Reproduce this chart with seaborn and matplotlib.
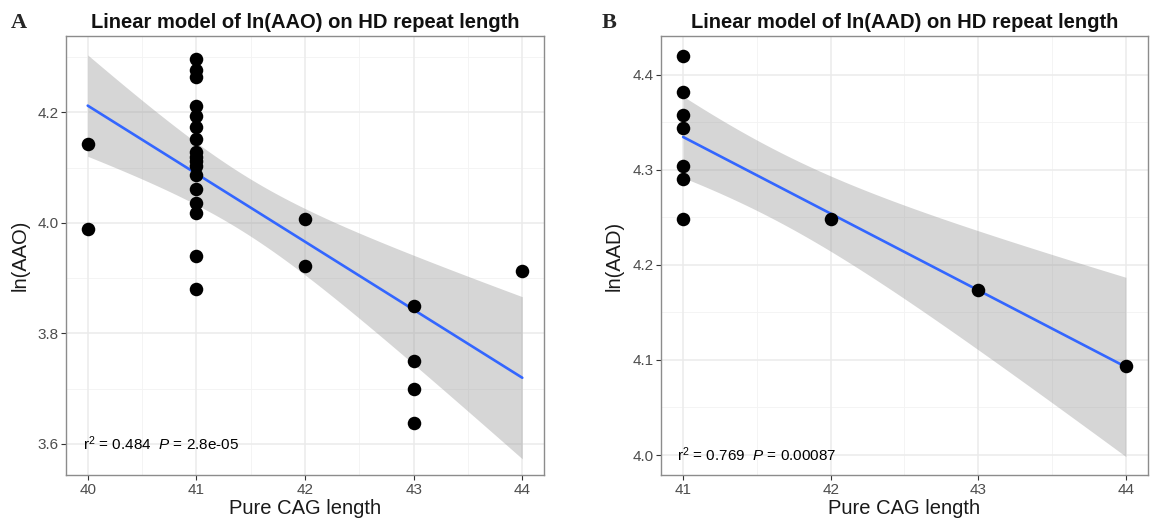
import math
import numpy as np
import pandas as pd
import matplotlib
matplotlib.use("Agg")
import matplotlib.pyplot as plt
import seaborn as sns

# ---------------- data ----------------
cag_a = [40, 40,
         41, 41, 41, 41, 41, 41, 41, 41, 41, 41, 41, 41, 41, 41, 41, 41, 41,
         42, 42,
         43, 43, 43, 43,
         44]
ln_aao = [4.143, 3.989,
          4.297, 4.277, 4.263, 4.211, 4.193, 4.174, 4.151, 4.128, 4.119, 4.111,
          4.102, 4.086, 4.061, 4.035, 4.017, 3.940, 3.881,
          4.007, 3.922,
          3.850, 3.750, 3.700, 3.637,
          3.912]

cag_b = [41, 41, 41, 41, 41, 41, 41, 42, 43, 44]
ln_aad = [4.419, 4.382, 4.357, 4.344, 4.304, 4.290, 4.248, 4.248, 4.174, 4.094]

titles = ["Linear model of ln(AAO) on HD repeat length",
          "Linear model of ln(AAD) on HD repeat length"]
ylabels = ["ln(AAO)", "ln(AAD)"]
xlabel = "Pure CAG length"
stats_text = [r"r$^{2}$ = 0.484  $\mathit{P}$ = 2.8e-05",
              r"r$^{2}$ = 0.769  $\mathit{P}$ = 0.00087"]
panel_letters = ["A", "B"]
xticks_list = [[40, 41, 42, 43, 44], [41, 42, 43, 44]]
yticks_list = [[3.6, 3.8, 4.0, 4.2], [4.0, 4.1, 4.2, 4.3, 4.4]]

# ---------------- style ----------------
sns.set_theme(style="white")
plt.rcParams["font.family"] = ["Liberation Sans", "DejaVu Sans"]
plt.rcParams["mathtext.fontset"] = "custom"
plt.rcParams["mathtext.rm"] = "Liberation Sans"
plt.rcParams["mathtext.it"] = "Liberation Sans:italic"
plt.rcParams["mathtext.bf"] = "Liberation Sans:bold"


def t_quantile(p, df):
    # inverse CDF of Student t via numeric integration of the pdf
    c = math.exp(math.lgamma((df + 1) / 2) - math.lgamma(df / 2)) / math.sqrt(df * math.pi)
    xs = np.linspace(0, 10, 200001)
    pdf = c * (1 + xs ** 2 / df) ** (-(df + 1) / 2)
    cdf = 0.5 + np.concatenate([[0], np.cumsum((pdf[1:] + pdf[:-1]) / 2 * np.diff(xs))])
    return float(np.interp(p, cdf, xs))


def lm_band(x, y, grid):
    x = np.asarray(x, float)
    y = np.asarray(y, float)
    n = len(x)
    b, a = np.polyfit(x, y, 1)
    resid = y - (a + b * x)
    s = math.sqrt(np.sum(resid ** 2) / (n - 2))
    sxx = np.sum((x - x.mean()) ** 2)
    se = s * np.sqrt(1 / n + (grid - x.mean()) ** 2 / sxx)
    t = t_quantile(0.975, n - 2)
    fit = a + b * grid
    return fit, fit - t * se, fit + t * se


W, H = 1152, 521
fig = plt.figure(figsize=(W / 100, H / 100), dpi=100)
ax_pos = [(66, 544), (661, 1148)]
top_px, bot_px = 36, 475
xlims = [(39.8, 44.2), (40.85, 44.15)]
ylims = [(3.5435, 4.338), (3.979, 4.4405)]
minor_x = [[39.5 + i for i in range(0, 6)], [40.5 + i for i in range(0, 5)]]
minor_y = [[3.5, 3.7, 3.9, 4.1, 4.3], [4.05, 4.15, 4.25, 4.35]]
letter_x = [11, 602]
ylabel_x = [20, 614]

datasets = [(cag_a, ln_aao), (cag_b, ln_aad)]

for i in range(2):
    l, r = ax_pos[i]
    ax = fig.add_axes([l / W, 1 - bot_px / H, (r - l) / W, (bot_px - top_px) / H])
    xs, ys = datasets[i]
    df = pd.DataFrame({"cag": xs, "val": ys})

    # grid (theme_bw like)
    for v in minor_x[i]:
        ax.axvline(v, color="#F3F3F3", lw=0.6, zorder=0)
    for v in minor_y[i]:
        ax.axhline(v, color="#F3F3F3", lw=0.6, zorder=0)
    for v in xticks_list[i]:
        ax.axvline(v, color="#EBEBEB", lw=1.1, zorder=0)
    for v in yticks_list[i]:
        ax.axhline(v, color="#EBEBEB", lw=1.1, zorder=0)

    grid = np.linspace(min(xs), max(xs), 200)
    fit, lo, hi = lm_band(xs, ys, grid)
    ax.fill_between(grid, lo, hi, color="#999999", alpha=0.4, lw=0, zorder=1)
    sns.regplot(data=df, x="cag", y="val", scatter=False, ci=None, ax=ax,
                line_kws=dict(color="#3366FF", lw=1.9, zorder=2), truncate=True)
    sns.scatterplot(data=df, x="cag", y="val", ax=ax, s=95, color="black",
                    edgecolor="black", linewidth=0, zorder=3)

    ax.set_xlim(*xlims[i])
    ax.set_ylim(*ylims[i])
    ax.set_xticks(xticks_list[i])
    ax.set_xticklabels([str(v) for v in xticks_list[i]])
    ax.set_yticks(yticks_list[i])
    ax.set_yticklabels([f"{v:.1f}" for v in yticks_list[i]])
    ax.tick_params(axis="both", which="both", direction="out", length=3.5,
                   width=0.8, color="#333333", labelcolor="#4D4D4D",
                   labelsize=11, pad=2, bottom=True, left=True)
    for sp in ax.spines.values():
        sp.set_color("#8C8C8C")
        sp.set_linewidth(1.0)
    ax.set_xlabel(xlabel, fontsize=14.5, color="#1A1A1A", labelpad=2)
    ax.set_ylabel("")
    fig.text(ylabel_x[i] / W, 1 - (top_px + bot_px) / 2 / H, ylabels[i],
             rotation=90, fontsize=14.5, color="#1A1A1A", ha="center", va="center")
    ax.set_title(titles[i], fontsize=14.5, fontweight="bold", color="#111111", pad=6)
    ax.text(xticks_list[i][0] - 0.04, yticks_list[i][0], stats_text[i],
            fontsize=11, color="black", ha="left", va="center", zorder=4)
    fig.text(letter_x[i] / W, 1 - 28 / H, panel_letters[i], fontsize=16,
             fontweight="bold", family="Liberation Serif", ha="left", va="baseline")

fig.savefig("out.png", dpi=100)
